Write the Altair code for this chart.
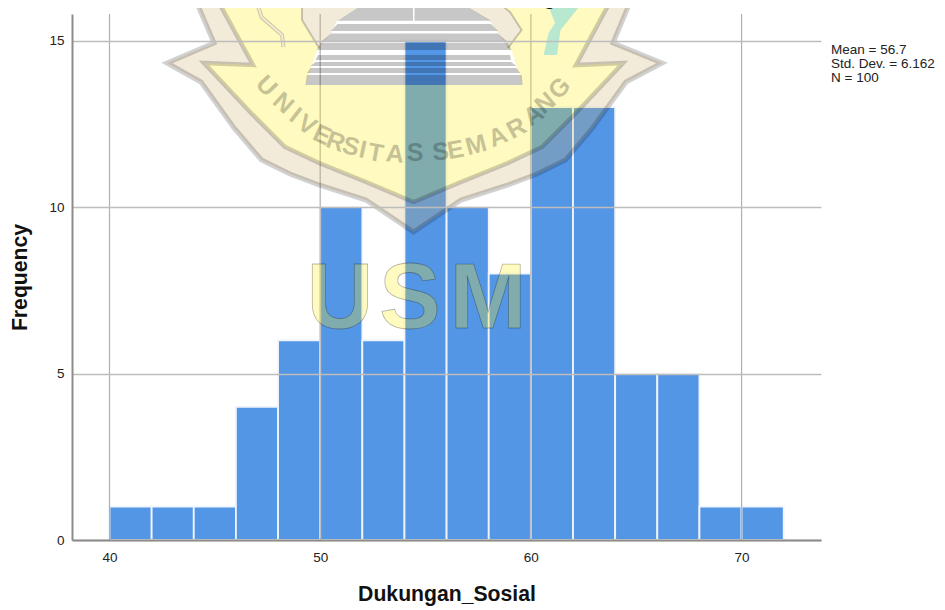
import altair as alt
import pandas as pd

bin_starts = [40, 42, 44, 46, 48, 50, 52, 54, 56, 58, 60, 62, 64, 66, 68, 70]
bin_ends = [42, 44, 46, 48, 50, 52, 54, 56, 58, 60, 62, 64, 66, 68, 70, 72]
freqs = [1, 1, 1, 4, 6, 10, 6, 15, 10, 8, 13, 13, 5, 5, 1, 1]
x_grid = [40, 50, 60, 70]
stats = ["Mean = 56.7", "Std. Dev. = 6.162", "N = 100"]
stats_y = [49.5, 63.5, 78]

# watermark shapes in page units
outer = [(195.6, 0), (214, 43), (167, 63), (201, 82), (234, 128), (261.5, 160), (290, 174), (319, 185), (366, 200), (413.5, 232),
         (461, 200), (508, 185), (537, 174), (565.5, 160), (592.5, 128), (626, 82), (662, 63), (613, 43), (631, 0)]
inner = [(217.5, 0), (253, 65), (204, 63), (251, 113), (285, 147), (319, 163), (366, 182), (413.5, 202),
         (461, 182), (508, 163), (542, 147), (576, 113), (623, 63), (576, 65), (611, 0)]
yellow_shape = inner[:1] + [(302, 0), (302, 20), (319, 48), (317, 50), (305.4, 85), (522.6, 85), (511.5, 50), (508, 48),
                            (521.6, 30), (510, 12), (495, 0)] + inner[-1:] + inner[-2:0:-1]
blob_left = [(302, 0), (302, 20), (319, 48), (331, 33), (337, 21), (369.6, 0)]
blob_right = [(456, 0), (490, 21), (498, 33), (508, 48), (521.6, 30), (510, 12), (495, 0)]
temple = [
    [(369.6, 0), (337.5, 20.7), (413, 20.7), (413, 0)],
    [(414.5, 0), (414.5, 20.7), (491, 20.7), (456, 0)],
    [(337.5, 24), (491, 24), (498, 31), (331, 31)],
    [(331, 33.5), (498, 33.5), (506.5, 41), (322, 41)],
    [(320.6, 43), (508, 43), (511.5, 50), (317, 50)],
    [(318, 55), (510, 55), (511, 60), (315.5, 60)],
    [(315.5, 62), (511, 62), (516.5, 66), (310.5, 66)],
    [(310.5, 68), (516.5, 68), (520, 73), (307, 73)],
    [(307, 75), (521.6, 75), (522.6, 85), (305.4, 85)],
]
leaf = [(543.6, 55), (548.6, 33), (555, 23), (550, 10), (553.7, 0), (574, 0), (579, 7), (560.5, 30), (557, 55)]
snake = [(256, 0), (261.5, 17), (282, 35), (283.5, 47)]
arc_letters = list("UNIVERSITASSEMARANG")
arc_x = [266.6, 283.4, 295.3, 307, 322.3, 335.8, 351, 362.8, 375.7, 395, 415, 440.5, 455.7, 476, 498, 516.5, 533.4, 545.3, 559.5]
arc_y = [86, 103, 115, 125, 135, 141.7, 146.7, 150, 153, 154, 153, 151.7, 150, 145, 136.7, 128.3, 115, 103, 88.3]
arc_a = [46, 42, 38, 32, 25, 20, 16, 12, 10, 5, 0, 355, 350, 345, 338, 332, 326, 320, 314]
usm_letters = ["U", "S", "M"]
usm_x = [340, 410, 488]

PX = alt.Scale(domain=[72, 821], nice=False, zero=False, padding=0)
PY = alt.Scale(domain=[14, 540], nice=False, zero=False, reverse=True, padding=0)
XS = alt.Scale(domain=[38.22, 73.77], nice=False, zero=False, padding=0)
YS = alt.Scale(domain=[0, 15.8], nice=False, zero=False, padding=0)
FONT = "Liberation Sans"


def pts(shapes):
    return pd.DataFrame([{"g": g, "i": i, "x": p[0], "y": p[1]} for g, s in enumerate(shapes) for i, p in enumerate(s)])


def shape(shapes, **mark):
    return alt.Chart(pts(shapes)).mark_line(**mark).encode(
        x=alt.X("x:Q", scale=PX, axis=None), y=alt.Y("y:Q", scale=PY, axis=None),
        detail="g:N", order="i:Q")


df = pd.DataFrame({"a": bin_starts, "b": bin_ends, "f": freqs, "base": [0] * len(freqs)})
bars = alt.Chart(df).mark_bar(color="#5496e6", stroke="#f0f5fd", strokeWidth=1.8).encode(
    x=alt.X("a:Q", scale=XS, title="Dukungan_Sosial",
            axis=alt.Axis(values=x_grid, grid=False, ticks=False, labelFlush=False, domainColor="#8c8c8c", domainWidth=2,
                          labelFont=FONT, labelFontSize=13.5, labelColor="#222", labelPadding=10,
                          titleFont=FONT, titleFontSize=21.2, titleFontWeight="bold", titleColor="#111",
                          titlePadding=20, zindex=1)),
    x2="b:Q",
    y=alt.Y("f:Q", scale=YS, title="Frequency",
            axis=alt.Axis(values=[0, 5, 10, 15], grid=True, gridColor="#bdbdbd", gridWidth=1.5, ticks=False, domainColor="#8c8c8c", domainWidth=2,
                          labelFont=FONT, labelFontSize=13.5, labelColor="#222", labelPadding=8,
                          titleFont=FONT, titleFontSize=21.2, titleFontWeight="bold", titleColor="#111",
                          titlePadding=18, zindex=1)),
    y2="base:Q",
)
rules = alt.Chart(pd.DataFrame({"x": x_grid})).mark_rule(color="#b0b0b0", strokeWidth=1.2).encode(
    x=alt.X("x:Q", scale=XS, axis=None))

cream_ring = shape([outer + inner[::-1]], fill="#d1b26d", stroke="#d1b26d", strokeWidth=0, fillOpacity=0.26)
yellow = shape([yellow_shape], fill="#ffeb0a", stroke="#ffeb0a", strokeWidth=0, fillOpacity=0.26)
blobs = shape([blob_left, blob_right], fill="#d1b26d", stroke="#d1b26d", strokeWidth=0, fillOpacity=0.26)
outer_line = shape([outer], stroke="#000000", strokeWidth=5, strokeOpacity=0.18, fillOpacity=0)
inner_line = shape([inner], stroke="#000000", strokeWidth=4.5, strokeOpacity=0.18, fillOpacity=0)
blob_lines = shape([blob_left[:3], blob_right[3:]], stroke="#000000", strokeWidth=2, strokeOpacity=0.2, fillOpacity=0)
temple_layer = shape(temple, fill="#000000", stroke="#000000", strokeWidth=0, fillOpacity=0.22)
leaf_layer = shape([leaf], fill="#b8e8d0", stroke="#b8e8d0", strokeWidth=0)
snake_a = shape([snake], stroke="#000000", strokeWidth=4, strokeOpacity=0.2, fillOpacity=0)
snake_b = shape([snake], stroke="#f3ebd9", strokeWidth=2, fillOpacity=0)

arc = alt.Chart(pd.DataFrame({"t": arc_letters, "x": arc_x, "y": arc_y, "a": arc_a})).mark_text(
    font=FONT, fontSize=25, fontWeight="bold", color="#000000", opacity=0.22, align="center", baseline="middle"
).encode(x=alt.X("x:Q", scale=PX, axis=None), y=alt.Y("y:Q", scale=PY, axis=None), text="t:N", angle=alt.Angle("a:Q", scale=None))

usm = alt.Chart(pd.DataFrame({"t": usm_letters, "x": usm_x, "y": [328] * 3})).mark_text(
    font=FONT, fontSize=92, fontWeight="bold", fill="#ffeb0a", fillOpacity=0.26, stroke="#000000", strokeOpacity=0.3, strokeWidth=0.8,
    align="center", baseline="alphabetic"
).encode(x=alt.X("x:Q", scale=PX, axis=None), y=alt.Y("y:Q", scale=PY, axis=None), text="t:N")

stat_text = alt.Chart(pd.DataFrame({"t": stats, "x": [831] * 3, "y": stats_y})).mark_text(
    font=FONT, fontSize=13.5, color="#222", align="left", baseline="middle"
).encode(x=alt.X("x:Q", scale=PX, axis=None), y=alt.Y("y:Q", scale=PY, axis=None), text="t:N")

hist_title = alt.Chart(pd.DataFrame({"t": ["Histogram"], "x": [543], "y": [5]})).mark_text(
    font=FONT, fontSize=20, fontWeight="bold", color="#111", align="center", baseline="alphabetic"
).encode(x=alt.X("x:Q", scale=PX, axis=None), y=alt.Y("y:Q", scale=PY, axis=None), text="t:N")

chart = alt.layer(
    bars, rules, yellow, cream_ring, blobs, temple_layer, outer_line, inner_line, blob_lines, leaf_layer,
    snake_a, snake_b, arc, usm, stat_text, hist_title
).resolve_scale(x="independent", y="independent").properties(
    width=749, height=526, background="white",
    padding={"left": 64, "top": 6, "right": 116, "bottom": 68},
    autosize=alt.AutoSizeParams(type="none"),
).configure_view(stroke=None)

chart.save("out.html", embed_options={"renderer": "svg", "actions": False})
